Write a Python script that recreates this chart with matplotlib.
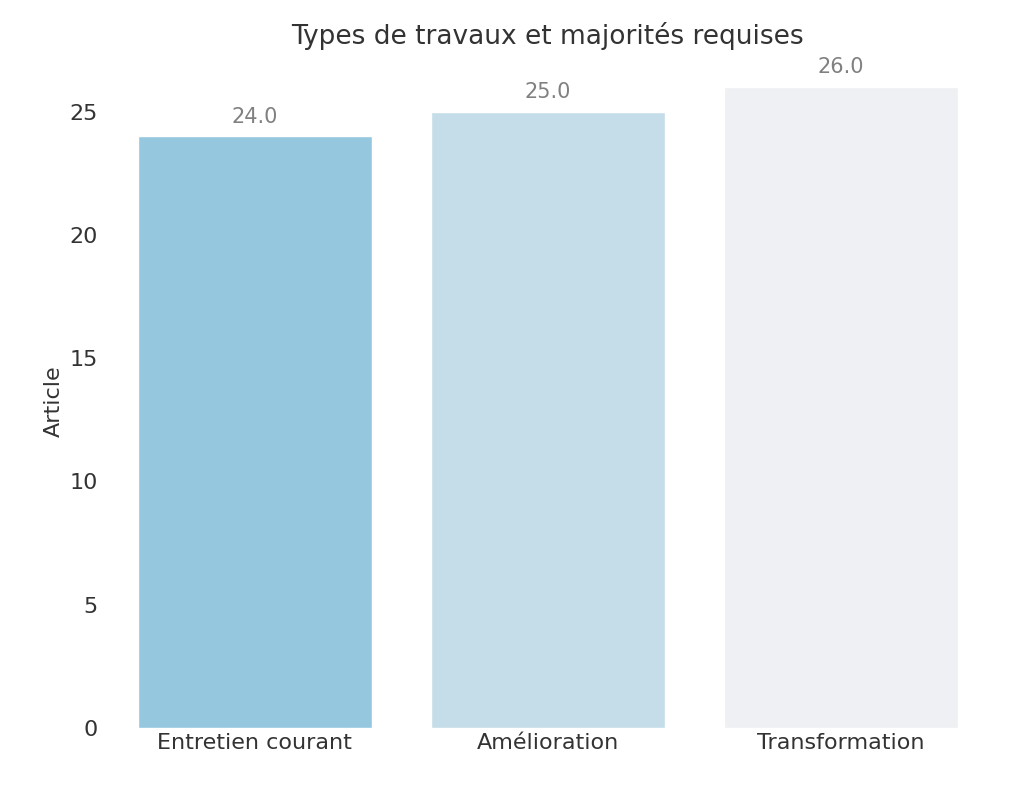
import matplotlib.pyplot as plt
import seaborn as sns

categories = ['Entretien courant', 'Amélioration', 'Transformation']
values = [24.0, 25.0, 26.0]
colors = ['#95c8de', '#c4dde8', '#eff0f3']

sns.set_style('white')
plt.rcParams['font.family'] = ['DejaVu Sans']

fig, ax = plt.subplots(figsize=(10.24, 7.87), dpi=100)
bars = ax.bar(categories, values, color=colors, width=0.8)
for b, v in zip(bars, values):
    ax.text(b.get_x() + b.get_width() / 2, v + 0.4, f'{v:.1f}',
            ha='center', va='bottom', fontsize=15, color='gray')

ax.set_title('Types de travaux et majorités requises', fontsize=19, color='#333333', pad=22)
ax.set_ylabel('Article', fontsize=16, color='#333333')
ax.tick_params(axis='both', labelsize=16, colors='#333333', length=0)
ax.set_yticks([0, 5, 10, 15, 20, 25])
ax.set_ylim(0, 26.5)
ax.set_xlim(-0.52, 2.52)
for s in ax.spines.values():
    s.set_visible(False)
fig.subplots_adjust(left=0.1, right=0.97, top=0.905, bottom=0.075)
fig.savefig('out.png')
